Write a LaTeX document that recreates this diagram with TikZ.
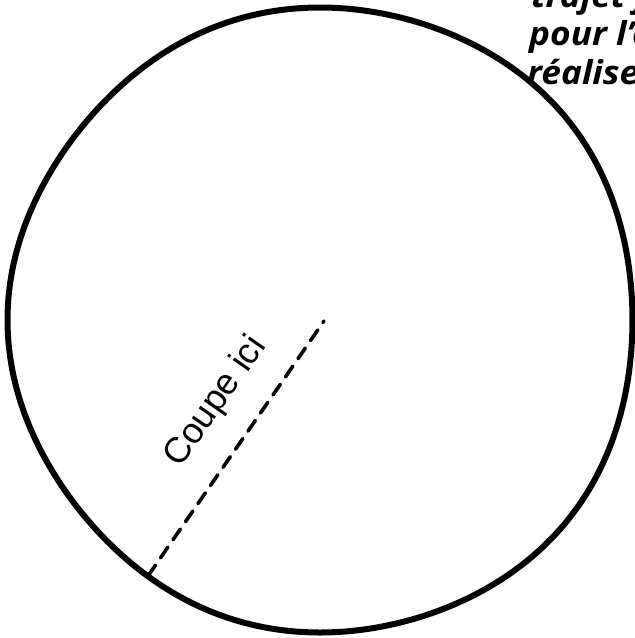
\documentclass[tikz,border=0pt]{standalone}
\usepackage{fontspec}
\setmainfont{Liberation Sans}
\newfontfamily\notefont[FakeStretch=1.07]{Open Sans}
\begin{document}
\begin{tikzpicture}[x=1pt,y=-1pt,
  rim/.style={draw=black,line width=6pt,line join=round},
  cutline/.style={draw=black,line width=3.6pt,dash pattern=on 13pt off 9pt,line cap=round},
  cutlabel/.style={font=\fontsize{36}{42}\selectfont,inner sep=0pt},
  note/.style={font=\notefont\fontsize{33}{39}\selectfont\bfseries\itshape,anchor=base west,inner sep=0pt}
]
\useasboundingbox (0,0) rectangle (635,638);
\draw[rim] plot[domain=0:360,samples=145,smooth cycle,variable=\t]
  ({320+(312.5+8*cos(\t)*(sin(2*\t))^2)*cos(\t)},
   {320-(312.5+8*cos(\t)*(sin(2*\t))^2)*sin(\t)});
\coordinate (cutA) at (148,576);
\coordinate (cutB) at (324,321);
\draw[cutline] (cutA) -- (cutB);
\node[cutlabel,rotate=55] (label) at (216,402) {Coupe ici};
\node[note] (n1) at (531,7) {trajet j};
\node[note] (n2) at (529,45) {pour l’é};
\node[note] (n3) at (527,84) {réalise};
\end{tikzpicture}
\end{document}
